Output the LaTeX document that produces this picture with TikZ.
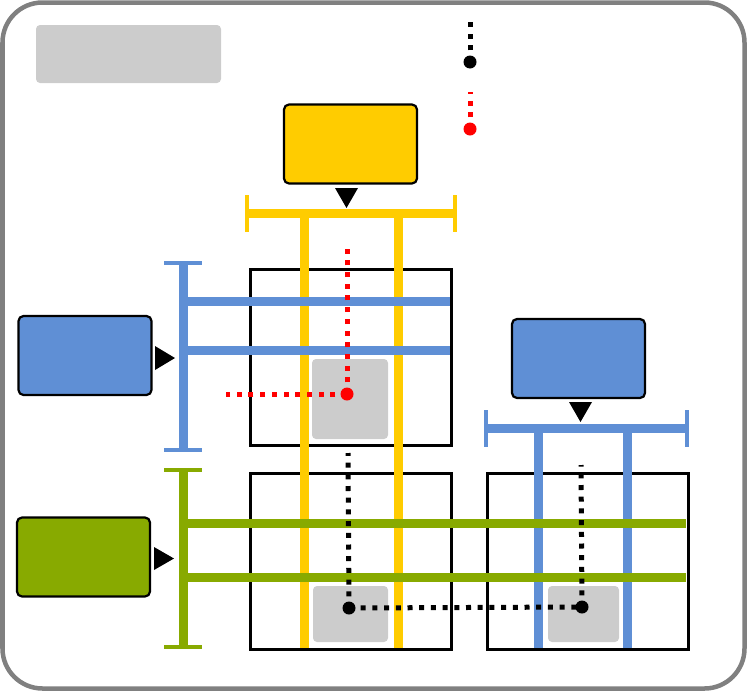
\documentclass[tikz,border=0pt]{standalone}
\usetikzlibrary{calc}
\definecolor{cyel}{HTML}{FFCC00}
\definecolor{cblu}{HTML}{5F8FD5}
\definecolor{cgrn}{HTML}{88AA00}
\definecolor{cgry}{HTML}{CCCCCC}
\definecolor{cfrm}{HTML}{808080}
\tikzset{
  srcbox/.style={draw=black, line width=2.2pt, rounded corners=5pt, minimum width=133pt, minimum height=79pt, inner sep=0pt},
  cell/.style={draw=black, line width=3pt, minimum width=201pt, minimum height=176pt, inner sep=0pt},
  pad/.style={fill=cgry, rounded corners=4pt, inner sep=0pt},
  bus/.style={line width=9pt},
  buscap/.style={line width=4.5pt},
  tri/.style={fill=black},
  dots/.style={line width=5pt, dash pattern=on 5pt off 6.7pt},
  pin/.style={circle, fill=#1, minimum size=13pt, inner sep=0pt}
}
\begin{document}
\begin{tikzpicture}[x=1pt,y=-1pt]
\useasboundingbox (0,0) rectangle (747,691);
% frame
\draw[cfrm, line width=4.5pt, rounded corners=40pt] (2.5,2.5) rectangle (744.5,688.5);
% title placeholder
\node[pad, minimum width=185pt, minimum height=58pt] (title) at (128.5,54) {};
% legend
\node[pin=black] (lgk) at (470,62) {};
\coordinate (lgkt) at (470,18);
\draw[black, dots] (lgk.center) -- (lgkt);
\node[pin=red] (lgr) at (470,129) {};
\coordinate (lgrt) at (470,92);
\draw[red, dots] (lgr.center) -- (lgrt);
% cells
\node[cell] (c1) at (350.5,357.5) {};
\node[cell] (c2) at (350.5,561) {};
\node[cell] (c3) at (587.5,561) {};
% pads
\node[pad, minimum width=76pt, minimum height=80pt] (p1) at (350,399) {};
\node[pad, minimum width=75pt, minimum height=56pt] (p2) at (350.5,614) {};
\node[pad, minimum width=71pt, minimum height=56pt] (p3) at (583.5,614) {};
% source boxes
\node[srcbox, fill=cyel] (ys) at (350.5,144) {};
\node[srcbox, fill=cblu] (bs) at (85,355.5) {};
\node[srcbox, fill=cgrn] (gs) at (83.5,557) {};
\node[srcbox, fill=cblu] (rs) at (578.5,358.5) {};
% triangles
\fill[tri] (335,188) -- (358,188) -- (346.5,208) -- cycle;
\fill[tri] (155,346) -- (155,370) -- (175,358) -- cycle;
\fill[tri] (154,547) -- (154,570) -- (174,558.5) -- cycle;
\fill[tri] (569,402) -- (592,402) -- (580.5,422) -- cycle;
% yellow bus
\coordinate (yl) at (247,213); \coordinate (yr) at (455,213);
\draw[cyel, bus] (yl) -- (yr);
\draw[cyel, buscap] ($(yl)+(0,-18)$) -- ($(yl)+(0,19)$);
\draw[cyel, buscap] ($(yr)+(0,-18)$) -- ($(yr)+(0,19)$);
\draw[cyel, bus] (304,213) -- (304,648);
\draw[cyel, bus] (398,213) -- (398,648);
% blue left bus
\coordinate (bt) at (183,263); \coordinate (bb) at (183,450);
\draw[cblu, bus] (bt) -- (bb);
\draw[cblu, buscap] ($(bt)+(-19,0)$) -- ($(bt)+(19,0)$);
\draw[cblu, buscap] ($(bb)+(-19,0)$) -- ($(bb)+(19,0)$);
\draw[cblu, bus] (183,301) -- (450,301);
\draw[cblu, bus] (183,350) -- (450,350);
% blue right bus
\coordinate (rl) at (486,428); \coordinate (rr) at (687,428);
\draw[cblu, bus] (rl) -- (rr);
\draw[cblu, buscap] ($(rl)+(0,-18)$) -- ($(rl)+(0,19)$);
\draw[cblu, buscap] ($(rr)+(0,-18)$) -- ($(rr)+(0,19)$);
\draw[cblu, bus] (538.5,428) -- (538.5,648);
\draw[cblu, bus] (627,428) -- (627,648);
% green bus
\coordinate (gt) at (183,470); \coordinate (gb) at (183,647);
\draw[cgrn, bus] (gt) -- (gb);
\draw[cgrn, buscap] ($(gt)+(-19,0)$) -- ($(gt)+(19,0)$);
\draw[cgrn, buscap] ($(gb)+(-19,0)$) -- ($(gb)+(19,0)$);
\draw[cgrn, bus] (183,523) -- (686,523);
\draw[cgrn, bus] (183,577) -- (686,577);
% red probe
\node[pin=red] (rp) at (347,394) {};
\coordinate (rpt) at (347,242);
\coordinate (rpl) at (226,394);
\draw[red, dots] (rp.center) -- (rpt);
\draw[red, dots] (rp.center) -- (rpl);
% black probes
\node[pin=black] (k1) at (349,608) {};
\node[pin=black] (k2) at (582,607) {};
\coordinate (k1t) at (348,453);
\coordinate (k2t) at (581,465);
\draw[black, dots] (k1.center) -- (k1t);
\draw[black, dots] (k2.center) -- (k2t);
\draw[black, dots] (k1.center) -- (k2.center);
\end{tikzpicture}
\end{document}
